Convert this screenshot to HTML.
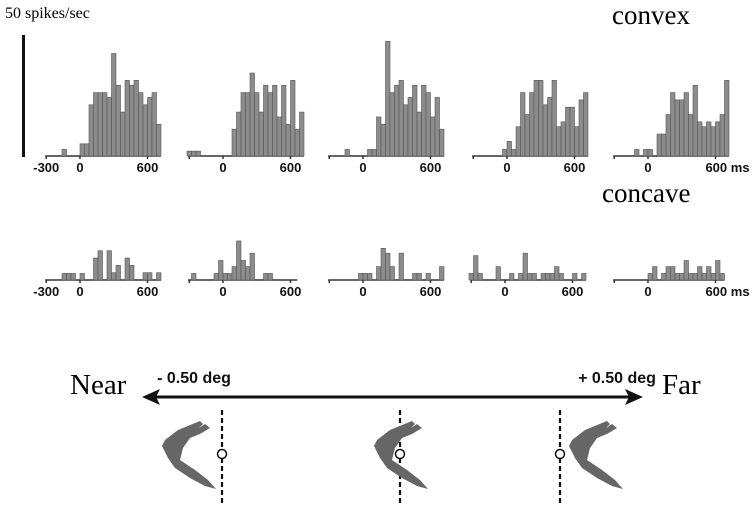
<!DOCTYPE html>
<html><head><meta charset="utf-8"><style>
html,body{margin:0;padding:0;background:#fff;}
svg{display:block;}
.tk{font-family:"Liberation Sans",sans-serif;font-weight:bold;font-size:13px;fill:#111;text-anchor:middle;}
.ser{font-family:"Liberation Serif",serif;fill:#000;}
</style></head><body>
<svg id="fig" width="756" height="509" viewBox="0 0 756 509" xmlns="http://www.w3.org/2000/svg">
<text class="ser" x="5" y="18" font-size="16">50 spikes/sec</text>
<rect x="22" y="35" width="3" height="122" fill="#111"/>
<text class="ser" x="612" y="24" font-size="27">convex</text>
<text class="ser" x="602" y="202" font-size="27">concave</text>
<g id="top"></g>
<g id="bot"></g>

<text class="ser" x="70" y="394" font-size="29">Near</text>
<text class="ser" x="662" y="394" font-size="29">Far</text>
<text class="tk" x="194" y="383" style="font-size:16px">- 0.50 deg</text>
<text class="tk" x="617" y="383" style="font-size:16px">+ 0.50 deg</text>
<g>
<line x1="155" y1="397" x2="630" y2="397" stroke="#111" stroke-width="3"/>
<polygon points="142,397 160,389 156,397 160,405" fill="#111"/>
<polygon points="643,397 625,389 629,397 625,405" fill="#111"/>
</g>
<g id="stim"></g>
<script>
// ---- data (spikes/sec) ----
const topZero = [80, 223, 363, 507, 648];
const topStartBin = [-4, -8, -4, -1, -3];
const topP1 = [2.7,0,0,0,5,5,21,26,26,26,24,42,29,18,31,29,31,26,21,24,26,13];
const topP2 = [2,2,2,0,0,0,0,0,0,0,11,18,26,26,34,26,18,29,26,29,16,29,13,31,11,18];
const topP3 = [2.7,0,0,0,0,2.7,2.7,16,13,47,26,29,31,21,24,29,18,29,26,16,24,11];
const topP4 = [2.7,6,2.7,12,26,17,26,31,31,21,24,31,12,14,20,20,12,23,26];
const topP5 = [2.7,0,2.7,2.7,0,9,9,17,26,23,23,26,17,29,14,12,14,12,14,17,31];
const topSeries = [topP1, topP2, topP3, topP4, topP5];
const topTicks = [["-300","0","600"],["","0","600"],["","0","600"],["","0","600"],["","0","600 ms"]];

// bottom arrays start at bin -8 (-320 ms), 40 ms bins
const botZero = [80, 223, 363, 505, 648];
const botStartBin = [-8, -8, -8, -8, -8];
const botP1 = [0,0,0,0,2.7,2.7,2.7,0,2.7,0,0,9,12,0,12,3,6,0,9,6,0,0,3,3,0,3];
const botP2 = [0,2.7,0,0,0,0,2.7,8,2.7,2.7,5.5,16,8,5.5,11,0,0,2.7,2.7];
const botP3 = [0,0,0,0,0,0,0,2.7,2.7,2.7,0,5.5,13,11,5.5,0,11,0,0,2.7,2.7,0,2.7,0,0,5.5];
const botP4 = [2.7,10,2.7,0,0,0,5.5,0,0,2.7,0,2.7,11,2.7,2.7,0,2.7,2.7,2.7,5.5,2.7,0,0,2.7,0,2.7];
const botP5 = [0,0,0,0,0,0,0,0,2.7,5.5,0,2.7,5.5,5.5,2.7,2.7,8,2.7,2.7,5.5,2.7,5.5,2.7,8,2.7];
const botSeries = [botP1, botP2, botP3, botP4, botP5];
const botTicks = [["-300","0","600"],["","0","600"],["","0","600"],["","0","600"],["","0","600 ms"]];

const NS = "http://www.w3.org/2000/svg";
function mk(tag, attrs, parent){const e=document.createElementNS(NS,tag);for(const k in attrs)e.setAttribute(k,attrs[k]);parent.appendChild(e);return e;}

function drawRow(g, zeros, series, ticks, opt){
  series.forEach((vals,p)=>{
    const z = zeros[p];
    const x = ms => z + ms*opt.k;
    const y = v => opt.base - v*opt.ppu;
    const pg = mk("g",{},g);
    
    
    const startBin = opt.startBins[p];
    const axEnd = Math.max(x(660), x((startBin+vals.length)*opt.bin));
    const ax = mk("line",{x1:x(-310),y1:opt.base,x2:axEnd,y2:opt.base,stroke:"#333","stroke-width":1.5},pg);
    
    
    [-300,0,600].forEach((t,i)=>{
      mk("line",{x1:x(t),y1:opt.base,x2:x(t),y2:opt.base+3,stroke:"#333","stroke-width":1.5},pg);
      if(ticks[p][i]){
        const tx = mk("text",{class:"tk",x:x(t)+(ticks[p][i]==="600 ms"?12:0),y:opt.base+16},pg);
        tx.textContent = ticks[p][i];
        
        
      }
    });
    vals.forEach((v,i)=>{
      if(v<=0) return;
      const ms0 = (startBin+i)*opt.bin;
      const r = mk("rect",{x:x(ms0),y:y(v),width:opt.bin*opt.k,height:opt.base-y(v),fill:"#8c8c8c",stroke:"#555","stroke-width":0.6},pg);
      
      
    });
  });
}
drawRow(document.getElementById('top'), topZero, topSeries, topTicks, {k:0.1125, bin:40, base:156, ppu:2.44, startBins:topStartBin, name:'convex'});
drawRow(document.getElementById('bot'), botZero, botSeries, botTicks, {k:0.1125, bin:40, base:280, ppu:2.44, startBins:botStartBin, name:'concave'});

// stimuli
const stimLines = [222, 400, 560];
const stimShift = [0, 212, 407];
const shape = [[165,440],[178,430],[200,421],[203,424],[199,428],[205,424],[210,428],[200,434],[190,438],[183,448],[180,460],[195,470],[208,480],[216,489],[205,486],[190,478],[175,468],[168,458],[162,446]];
const sg = document.getElementById('stim');
stimLines.forEach((lx,i)=>{
  const g = mk("g",{},sg);
  
  
  mk("line",{x1:lx,y1:410,x2:lx,y2:506,stroke:"#111","stroke-width":2.2,"stroke-dasharray":"5,3"},g);
  mk("polygon",{points:shape.map(p=>(p[0]+stimShift[i])+","+p[1]).join(" "),fill:"#666"},g);
  mk("circle",{cx:lx,cy:454,r:4.5,fill:"#fff",stroke:"#111","stroke-width":1.5},g);
});
</script>
</svg>
</body></html>
